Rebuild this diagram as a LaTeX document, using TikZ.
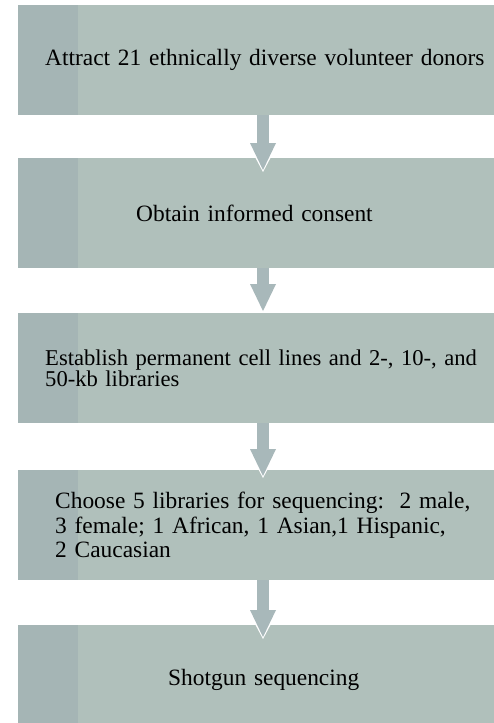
\documentclass[tikz,border=0pt]{standalone}
\usepackage{fontspec}
\setmainfont{Liberation Serif}
\usetikzlibrary{arrows.meta}
\definecolor{boxgray}{RGB}{176,192,187}
\definecolor{stripgray}{RGB}{165,181,181}
\definecolor{arrowgray}{RGB}{168,184,186}
\begin{document}
\begin{tikzpicture}[x=1pt, y=-1pt,
    stage/.style={rectangle, fill=boxgray, anchor=north west, minimum width=500pt, minimum height=110pt,
        text width=446pt, inner xsep=27pt, inner ysep=0pt, align=left, font=\fontsize{23.4}{25}\selectfont,
        path picture={\fill[stripgray] (path picture bounding box.north west) rectangle ([xshift=60pt]path picture bounding box.south west);}},
    flowedge/.style={draw=white, line width=16pt, -{Triangle[width=33pt, length=31pt, line width=0pt]}},
    flow/.style={draw=arrowgray, line width=12pt, -{Triangle[width=26pt, length=27pt, line width=0pt]}}]
\useasboundingbox (0,0) rectangle (493,723);
\coordinate (axis) at (263,0);
\node[stage] (b1) at (18,5) {Attract 21 ethnically diverse volunteer donors};
\node[stage, inner xsep=118pt, text width=264pt] (b2) at (18,158) {Obtain informed consent};
\node[stage, font=\fontsize{22.6}{21.5}\selectfont] (b3) at (18,313)
    {\mbox{Establish permanent cell lines and 2-, 10-, and}\\ 50-kb libraries};
\node[stage, inner xsep=37pt, text width=426pt, font=\fontsize{23.4}{24.5}\selectfont] (b4) at (18,470)
    {Choose 5 libraries for sequencing:~~2 male,\\ 3 female; 1 African, 1 Asian,1 Hispanic,\\ 2 Caucasian};
\node[stage, inner xsep=150pt, text width=200pt] (b5) at (18,625) {Shotgun sequencing};
\foreach \a/\b/\s in {b1/b2/-12, b2/b3/2, b3/b4/-6, b4/b5/-12}
{
    \draw[flowedge, shorten >={(\s-2)*1pt}] (\a.south -| axis) -- (\b.north -| axis);
    \draw[flow, shorten >={\s*1pt}] (\a.south -| axis) -- (\b.north -| axis);
}
\end{tikzpicture}
\end{document}
